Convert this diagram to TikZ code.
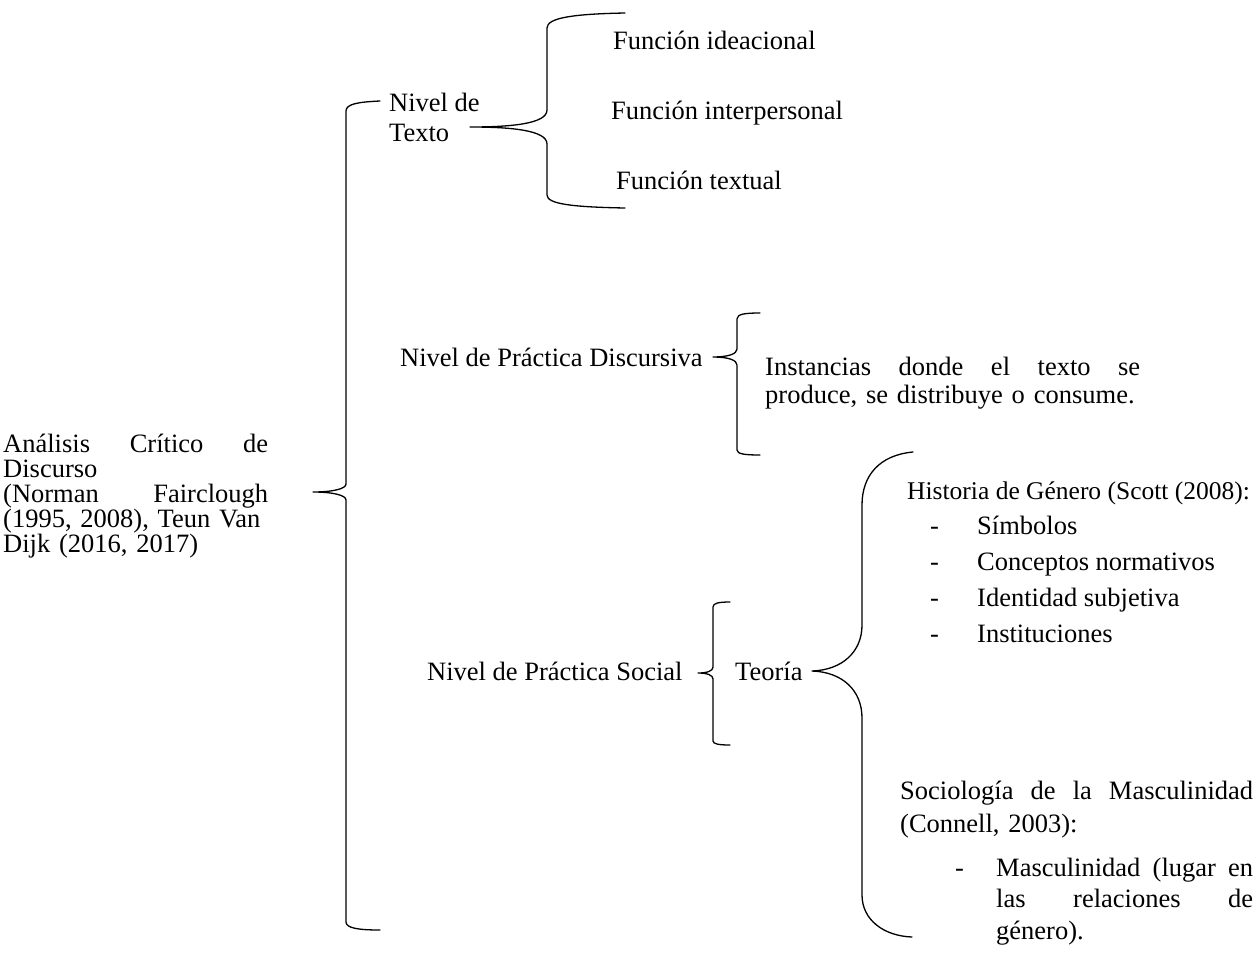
\documentclass[tikz,border=0pt]{standalone}
\usepackage{fontspec}
\setmainfont{Liberation Serif}
\begin{document}
\begin{tikzpicture}[x=1pt,y=-1pt,
  txt/.style={inner sep=0pt, anchor=base west, font=\fontsize{26.5}{30}\selectfont},
  brace/.style={line width=1.3pt, line join=round, line cap=round}]
\useasboundingbox (0,0) rectangle (1257,967);

% texts
\node[txt, text width=265pt, align=left, font=\fontsize{26.5}{25}\selectfont] (acd) at (3,452)
  {Análisis\hfill Crítico\hfill de\\Discurso\\(Norman\hfill Fairclough\\(1995, 2008), Teun Van\\Dijk (2016, 2017)};
\node[txt, align=left] (nt) at (389,141) {Nivel de\\Texto};
\node[txt] (f1) at (613,49) {Función ideacional};
\node[txt] (f2) at (611,119) {Función interpersonal};
\node[txt] (f3) at (616,189) {Función textual};
\node[txt] (npd) at (400,366) {Nivel de Práctica Discursiva};
\node[txt, text width=375pt, align=left, font=\fontsize{26.5}{28}\selectfont] (inst) at (765,375)
  {Instancias\hfill donde\hfill el\hfill texto\hfill se\\produce, se distribuye o consume.};
\node[txt] (nps) at (427,680) {Nivel de Práctica Social};
\node[txt] (teo) at (735,680) {Teoría};
\node[txt, font=\fontsize{25.5}{30}\selectfont] (hist) at (907,499) {Historia de Género (Scott (2008):};
\node[txt] (d1) at (930,534) {-};
\node[txt] (s1) at (977,534) {Símbolos};
\node[txt] (d2) at (930,570) {-};
\node[txt] (s2) at (977,570) {Conceptos normativos};
\node[txt] (d3) at (930,606) {-};
\node[txt] (s3) at (977,606) {Identidad subjetiva};
\node[txt] (d4) at (930,642) {-};
\node[txt] (s4) at (977,642) {Instituciones};
\node[txt, text width=353pt, align=left, font=\fontsize{26.5}{33}\selectfont] (soc) at (900,799)
  {Sociología\hfill de\hfill la\hfill Masculinidad\\(Connell, 2003):};
\node[txt] (d5) at (955,876) {-};
\node[txt, text width=257pt, align=left, font=\fontsize{26.5}{31.5}\selectfont] (masc) at (996,876)
  {Masculinidad\hfill (lugar\hfill en\\las\hfill relaciones\hfill de\\género).};

% brace: Analisis
\draw[brace] (380,101) .. controls (358,102) and (346,104) .. (346,111) -- (346,484)
  .. controls (346,489) and (332,492) .. (313,492)
  .. controls (332,492) and (346,495) .. (346,500) -- (346,922)
  .. controls (346,928) and (358,930) .. (380,930);
% brace: Nivel de Texto
\draw[brace] (625,13) .. controls (572,14) and (547,18) .. (547,28) -- (547,110)
  .. controls (547,124) and (510,127) .. (470,127)
  .. controls (510,127) and (547,130) .. (547,144) -- (547,195)
  .. controls (547,204) and (572,207) .. (625,208);
% brace: Practica Discursiva
\draw[brace] (760,313) .. controls (745,313) and (737,314) .. (737,319) -- (737,349)
  .. controls (737,354) and (728,357) .. (713,357)
  .. controls (728,357) and (737,360) .. (737,365) -- (737,450)
  .. controls (737,454) and (745,455) .. (760,455);
% brace: Practica Social
\draw[brace] (730,602) .. controls (719,602) and (713,603) .. (713,607) -- (713,667)
  .. controls (713,671) and (707,673) .. (698,673)
  .. controls (707,673) and (713,675) .. (713,679) -- (713,741)
  .. controls (713,744) and (719,745) .. (730,745);
% brace: Teoria
\draw[brace] (913,452) .. controls (880,455) and (862,475) .. (862,505) -- (862,625)
  .. controls (862,652) and (842,670) .. (812,671)
  .. controls (842,672) and (862,690) .. (862,718) -- (862,895)
  .. controls (862,920) and (884,936) .. (912,937);
\end{tikzpicture}
\end{document}
